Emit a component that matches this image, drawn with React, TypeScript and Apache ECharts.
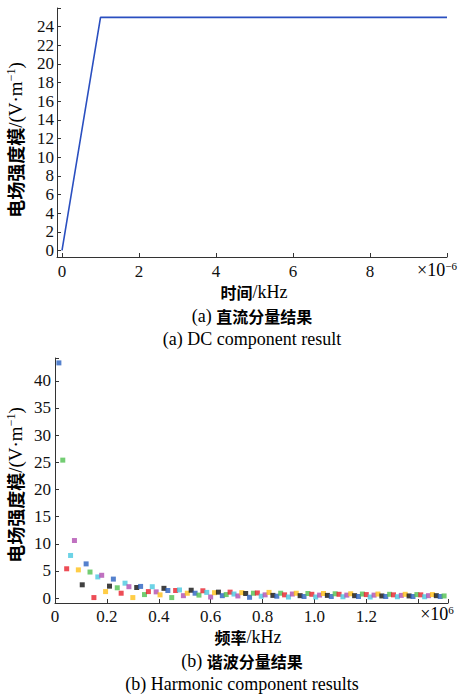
import React, { useEffect, useRef } from "react";
import * as echarts from "echarts";

// (a) DC component: time (×10^-6) vs field strength
const dcTime = [0, 1, 10];
const dcValue = [0, 25, 25];
const dcXTicks = [0, 2, 4, 6, 8];
const dcYTicks = [0, 2, 4, 6, 8, 10, 12, 14, 16, 18, 20, 22, 24];

// (b) Harmonic component: frequency (×10^6 kHz) vs field strength
const harmStep = 0.015;
const harmValues = [
  43.3, 25.4, 5.4, 7.85, 10.6, 5.2, 2.45, 6.3, 4.8, 0.1,
  3.9, 4.2, 1.2, 2.2, 3.5, 1.9, 0.9, 2.75, 2.1, 0.1,
  1.95, 2.15, 0.65, 1.2, 2.1, 1.15, 0.6, 1.8, 1.4, 0.1,
  1.4, 1.5, 0.45, 0.9, 1.45, 0.9, 0.55, 1.35, 1.05, 0.2,
  1.0, 1.1, 0.45, 0.65, 1.1, 0.75, 0.4, 1.0, 0.85, 0.15,
  0.9, 0.95, 0.35, 0.6, 1.05, 0.5, 0.35, 0.9, 0.6, 0.2,
  0.75, 0.9, 0.45, 0.3, 0.85, 0.7, 0.2, 0.55, 0.85, 0.5,
  0.3, 0.8, 0.7, 0.25, 0.55, 0.8, 0.45, 0.3, 0.75, 0.65,
  0.2, 0.55, 0.75, 0.4, 0.3, 0.7, 0.6, 0.25, 0.5, 0.7,
  0.4, 0.3, 0.65, 0.6, 0.25, 0.45, 0.65, 0.45, 0.3, 0.4,
];
const harmColors = ["#2a62c0", "#50c050", "#e8202c", "#48c8e0", "#b04eb0", "#ffc018", "#101010"];
const harmXTicks = [0, 0.2, 0.4, 0.6, 0.8, 1.0, 1.2];
const harmYTicks = [0, 5, 10, 15, 20, 25, 30, 35, 40];

const SERIF = "'Liberation Serif', 'Times New Roman', serif";
const CJK = "'Noto Sans CJK SC', sans-serif";
const AX = "#333";

const rich = {
  c: { fontFamily: CJK, fontWeight: "bold", fontSize: 16, color: "#111", lineHeight: 19 },
  s: { fontFamily: SERIF, fontSize: 18, color: "#111", lineHeight: 19 },
  sup: { fontFamily: SERIF, fontSize: 11, color: "#111", verticalAlign: "top", lineHeight: 19 },
  cl: { fontFamily: CJK, fontWeight: "bold", fontSize: 18, color: "#111", lineHeight: 21 },
  sl: { fontFamily: SERIF, fontSize: 19, color: "#111", lineHeight: 21 },
  supl: { fontFamily: SERIF, fontSize: 12, color: "#111", verticalAlign: "top", lineHeight: 21 },
};

function textEl(x: number, y: number, text: string, rotation = 0) {
  return {
    type: "text",
    x,
    y,
    rotation,
    style: {
      text,
      rich,
      align: "center",
      verticalAlign: "middle",
      textAlign: "center",
      textVerticalAlign: "middle",
    },
  };
}

export default function App() {
  const ref = useRef<HTMLDivElement>(null);
  useEffect(() => {
    if (!ref.current) return;
    const chart = echarts.init(ref.current, null, { renderer: "svg" });
    const lineData = dcTime.map((t, i) => [t, dcValue[i]]);
    const scatterData = harmValues.map((v, i) => ({
      value: [(i + 1) * harmStep, v],
      itemStyle: { color: harmColors[i % harmColors.length] },
    }));
    const axisCommon = {
      axisLine: { show: true, onZero: false, lineStyle: { color: AX, width: 1 } },
      splitLine: { show: false },
      axisLabel: { fontFamily: SERIF, fontSize: 17, color: "#111" },
    };
    chart.setOption({
      animation: false,
      grid: [
        { left: 57, right: 11, top: 8, height: 249 },
        { left: 55, right: 10, top: 358, height: 245 },
      ],
      xAxis: [
        {
          gridIndex: 0,
          type: "value",
          min: -0.13,
          max: 10,
          ...axisCommon,
          axisTick: { inside: true, length: 4, lineStyle: { color: AX }, customValues: [...dcXTicks, 10] },
          axisLabel: { ...axisCommon.axisLabel, margin: 6, customValues: dcXTicks },
        },
        {
          gridIndex: 1,
          type: "value",
          min: 0,
          max: 1.515,
          ...axisCommon,
          axisTick: { inside: true, length: 4, lineStyle: { color: AX }, customValues: [...harmXTicks, 1.4, 1.515] },
          axisLabel: {
            ...axisCommon.axisLabel,
            margin: 5,
            customValues: harmXTicks,
            formatter: (v: number) => (v === 0 ? "0" : v.toFixed(1)),
          },
        },
      ],
      yAxis: [
        {
          gridIndex: 0,
          type: "value",
          min: -0.7,
          max: 26,
          ...axisCommon,
          axisTick: { inside: true, length: 4, lineStyle: { color: AX }, customValues: [...dcYTicks, 26] },
          axisLabel: { ...axisCommon.axisLabel, margin: 3, customValues: dcYTicks },
        },
        {
          gridIndex: 1,
          type: "value",
          min: -0.9,
          max: 44.2,
          ...axisCommon,
          axisTick: { inside: true, length: 4, lineStyle: { color: AX }, customValues: [...harmYTicks, 44.2] },
          axisLabel: { ...axisCommon.axisLabel, margin: 4, customValues: harmYTicks },
        },
      ],
      series: [
        {
          type: "line",
          xAxisIndex: 0,
          yAxisIndex: 0,
          data: lineData,
          showSymbol: false,
          lineStyle: { color: "#2a4fc0", width: 1.6 },
        },
        {
          type: "scatter",
          xAxisIndex: 1,
          yAxisIndex: 1,
          symbol: "rect",
          symbolSize: 5,
          data: scatterData,
        },
      ],
      graphic: [
        textEl(15, 140, "{cl|电场强度模}{sl|/(V·m}{supl|−1}{sl|)}", Math.PI / 2),
        textEl(254, 292, "{c|时间}{s|/kHz}"),
        textEl(252, 316, "{s|(a) }{c|直流分量结果}"),
        textEl(252, 339, "{s|(a) DC component result}"),
        textEl(437, 270, "{s|×10}{sup|−6}"),
        textEl(15, 485, "{cl|电场强度模}{sl|/(V·m}{supl|−1}{sl|)}", Math.PI / 2),
        textEl(248, 637, "{c|频率}{s|/kHz}"),
        textEl(242, 661, "{s|(b) }{c|谐波分量结果}"),
        textEl(242, 684, "{s|(b) Harmonic component results}"),
        textEl(437, 614, "{s|×10}{sup|6}"),
      ],
    });
    return () => chart.dispose();
  }, []);
  return (
    <div
      ref={ref}
      style={{ position: "absolute", left: 0, top: 0, width: 458, height: 695, background: "#fff" }}
    />
  );
}
